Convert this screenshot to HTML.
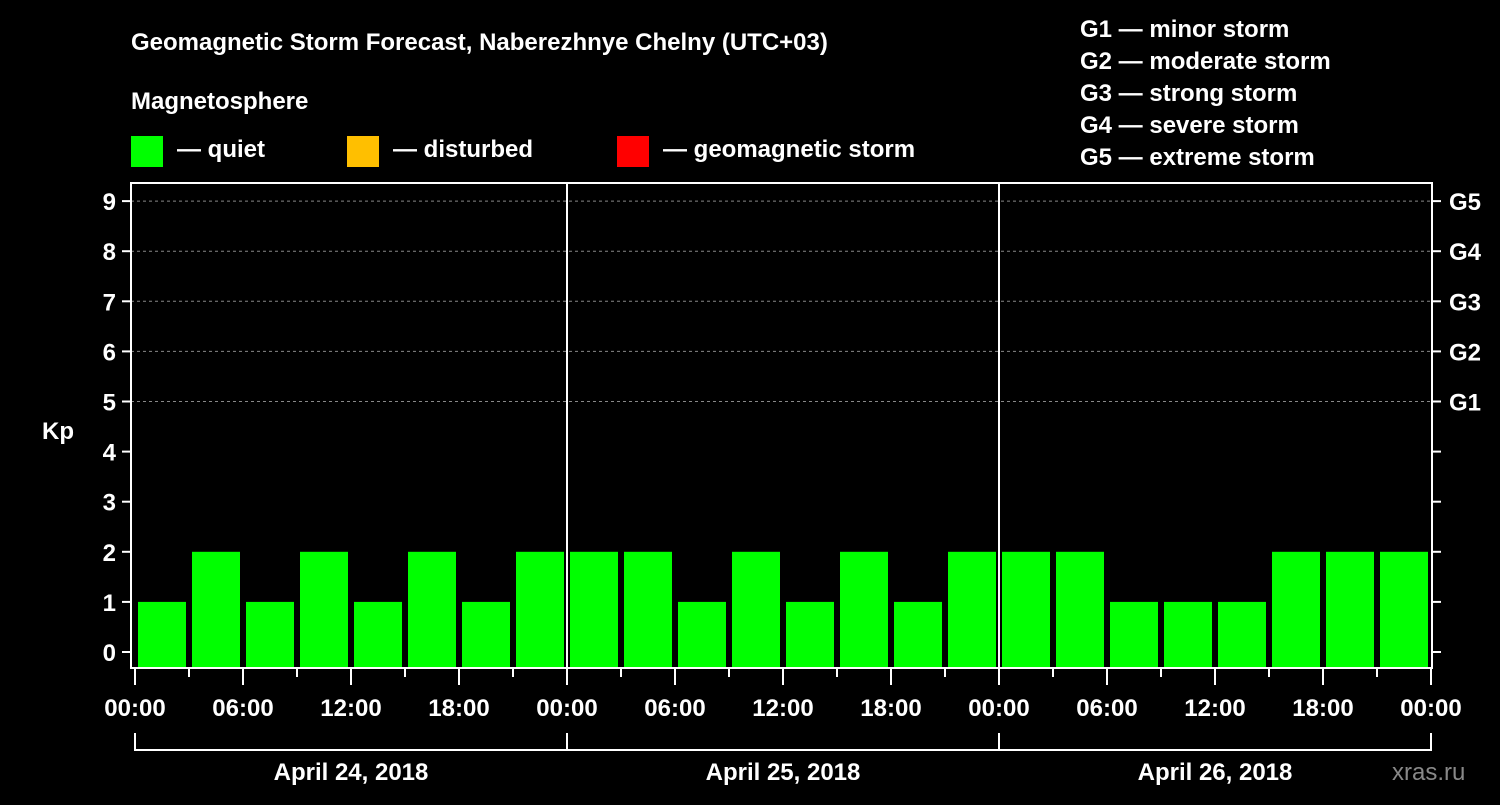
<!DOCTYPE html>
<html><head><meta charset="utf-8"><style>
body{margin:0;background:#000;width:1500px;height:800px;overflow:hidden}
svg text{font-family:"Liberation Sans",Arial,sans-serif;font-weight:bold;fill:#fff}
</style></head><body>
<svg id="chart" width="1500" height="800">
<text x="131" y="50" font-size="24">Geomagnetic Storm Forecast, Naberezhnye Chelny (UTC+03)</text>
<text x="131" y="109" font-size="24">Magnetosphere</text>
<rect x="131" y="136" width="32" height="31" fill="#00ff00"/>
<text x="177" y="157" font-size="24">— quiet</text>
<rect x="347" y="136" width="32" height="31" fill="#ffbf00"/>
<text x="393" y="157" font-size="24">— disturbed</text>
<rect x="617" y="136" width="32" height="31" fill="#ff0000"/>
<text x="663" y="157" font-size="24">— geomagnetic storm</text>
<g font-size="24">
<text x="1080" y="37">G1 — minor storm</text>
<text x="1080" y="69">G2 — moderate storm</text>
<text x="1080" y="101">G3 — strong storm</text>
<text x="1080" y="133">G4 — severe storm</text>
<text x="1080" y="165">G5 — extreme storm</text>
</g>
<text x="42" y="439" font-size="24">Kp</text>
<text x="1392" y="780" font-size="24" style="fill:#888;font-weight:normal">xras.ru</text>
<g id="grid"></g><g id="bars"></g><g id="axes"></g>
</svg>
<script>
const values=[1,2,1,2,1,2,1,2, 2,2,1,2,1,2,1,2, 2,2,1,1,1,2,2,2];
const yTicks=[0,1,2,3,4,5,6,7,8,9];
const gLabels=["G1","G2","G3","G4","G5"];
const xLabels=["00:00","06:00","12:00","18:00","00:00","06:00","12:00","18:00","00:00","06:00","12:00","18:00","00:00"];
const days=["April 24, 2018","April 25, 2018","April 26, 2018"];
const NS="http://www.w3.org/2000/svg";
const L=135,R=1431,T=183,B=668;
const y=v=>652-v*50.1;
const x=i=>L+i*(R-L)/values.length;
function mk(tag,a,parent,txt){const e=document.createElementNS(NS,tag);for(const k in a)e.setAttribute(k,a[k]);if(txt!==undefined)e.textContent=txt;document.getElementById(parent).appendChild(e);return e;}
const col=v=>v>=5?"#ff0000":v>=4?"#ffbf00":"#00ff00";
values.forEach((v,i)=>{const bw=(R-L)/values.length;
const r=mk("rect",{x:x(i)+3,y:y(v),width:bw-6,height:B-y(v),fill:col(v)},"bars");

});
yTicks.forEach(t=>{
if(t>=5){const g=mk("line",{x1:131,x2:1432,y1:y(t),y2:y(t),stroke:"#888","stroke-dasharray":"3,3"},"grid");

}
mk("line",{x1:122,x2:131,y1:y(t),y2:y(t),stroke:"#fff","stroke-width":2},"axes");
mk("line",{x1:1432,x2:1441,y1:y(t),y2:y(t),stroke:"#fff","stroke-width":2},"axes");
const tl=mk("text",{x:116,y:y(t)+9,"font-size":24,"text-anchor":"end"},"axes",String(t));


if(t>=5){const gl=mk("text",{x:1449,y:y(t)+9,"font-size":24},"axes",gLabels[t-5]);

}
});
mk("rect",{x:131,y:T,width:1301,height:B-T,fill:"none",stroke:"#fff","stroke-width":2},"axes");
[1,2].forEach(d=>{const l=mk("line",{x1:L+d*432,x2:L+d*432,y1:T,y2:B,stroke:"#fff","stroke-width":2},"axes");

});
for(let i=0;i<=values.length;i++){const xx=x(i);const major=i%2==0;
mk("line",{x1:xx,x2:xx,y1:B,y2:major?685:677,stroke:"#fff","stroke-width":2},"axes");}
xLabels.forEach((s,i)=>{const t=mk("text",{x:x(i*2),y:716,"font-size":24,"text-anchor":"middle"},"axes",s);

});
days.forEach((d,i)=>{const x0=L+i*432,x1=x0+432;
mk("path",{d:`M${x0} 733V750H${x1}V733`,fill:"none",stroke:"#fff","stroke-width":2},"axes");
const t=mk("text",{x:(x0+x1)/2,y:780,"font-size":24,"text-anchor":"middle"},"axes",d);

});
</script>
</body></html>
